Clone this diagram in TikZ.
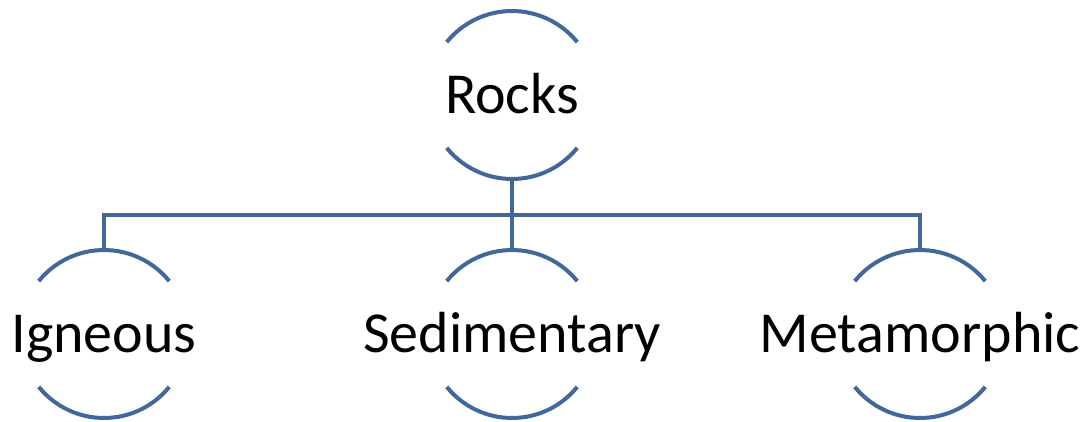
\documentclass[tikz,border=0pt]{standalone}
\usepackage{fontspec}
\setmainfont{Carlito}
\usepackage{tikz}

\definecolor{rockblue}{RGB}{65,104,155}

% top and bottom arcs of a ring
\newcommand{\ringarcs}[1]{%
    \draw[ring line] (#1.39) arc[start angle=39, end angle=141, radius=84pt];
    \draw[ring line] (#1.219) arc[start angle=219, end angle=321, radius=84pt];
}

\begin{document}
\begin{tikzpicture}[
            x = 1pt, y = 1pt,
            ring line/.style = {draw = rockblue, line width = 4pt}, % arcs and links
            semithick
        ]

        \tikzstyle{ring}=[
            circle,
            minimum size = 168pt,
            inner sep = 0pt,
            outer sep = 0pt
        ]
        \tikzstyle{word}=[
            font = \fontsize{58}{60}\selectfont,
            text height = 37.4pt,
            text depth = 0pt,
            inner sep = 0pt
        ]

        \useasboundingbox (0,0) rectangle (1091,421);

        \node (rocks) [ring] at (512,326) {};
        \node (ign) [ring] at (104,87) {};
        \node (sed) [ring] at (512,87) {};
        \node (met) [ring] at (920,87) {};
        \coordinate (bus) at (512,206);

        \node (rocks-t) [word] at (rocks.center) {Rocks};
        \node (ign-t) [word] at (ign.center) {Igneous};
        \node (sed-t) [word] at (sed.center) {Sedimentary};
        \node (met-t) [word] at (met.center) {Metamorphic};

        \ringarcs{rocks}
        \ringarcs{ign}
        \ringarcs{sed}
        \ringarcs{met}

        \draw[ring line] (rocks.south) -- (sed.north);
        \draw[ring line] (ign.north) |- (bus) -| (met.north);

    \end{tikzpicture}
\end{document}
